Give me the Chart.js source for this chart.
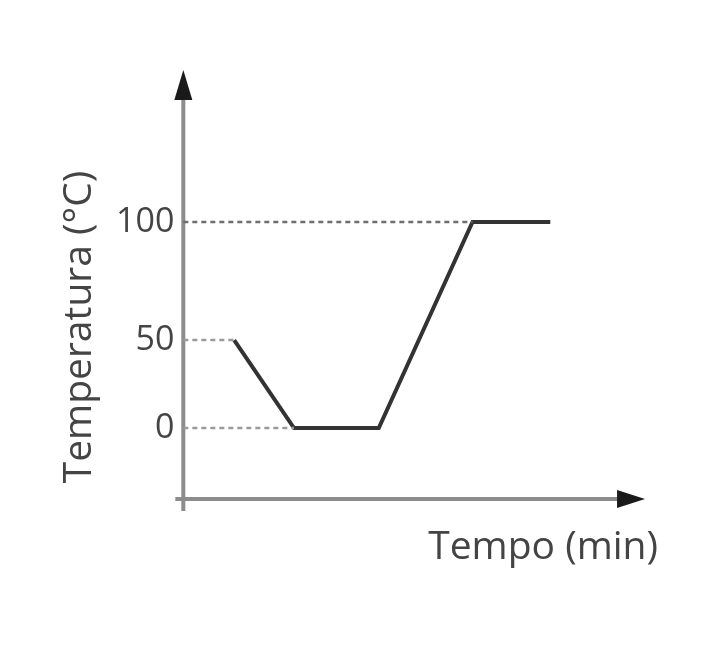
<!DOCTYPE html>
<html>
<head>
<meta charset="utf-8">
<script src="https://cdn.jsdelivr.net/npm/chart.js@4/dist/chart.umd.min.js"></script>
<style>
  html, body { margin: 0; background: #fff; }
</style>
</head>
<body>
<canvas id="c" width="710" height="655"></canvas>
<script>
// heating curve
const times = [5.1, 11.1, 19.6, 29, 36.8];
const temps = [50, 0, 0, 100, 100];
const yTicks = [0, 50, 100];
const yLabel = "Temperatura (°C)";
const xLabel = "Tempo (min)";

// the drawing is schematic: 0-50 is shorter than 50-100, so the y scale is piecewise
const yKnotValues = [-40, 0, 50, 100, 160];
const yKnotPos = [0, 0.1655, 0.3706, 0.6457, 1];
const xAxisEnd = 46.3;

const ink = "#444444";
const font = "'Open Sans', 'Noto Sans', sans-serif";

class StretchScale extends Chart.LinearScale {
  static id = "stretch";
  static defaults = Chart.LinearScale.defaults;

  toDecimal(v) {
    let i = 1;
    while (i < yKnotValues.length - 1 && v > yKnotValues[i]) i++;
    const t = (v - yKnotValues[i - 1]) / (yKnotValues[i] - yKnotValues[i - 1]);
    return yKnotPos[i - 1] + t * (yKnotPos[i] - yKnotPos[i - 1]);
  }

  getPixelForValue(v) {
    return v === null ? NaN : this.getPixelForDecimal(this.toDecimal(v));
  }

  getValueForPixel(px) {
    const d = this.getDecimalForPixel(px);
    let i = 1;
    while (i < yKnotPos.length - 1 && d > yKnotPos[i]) i++;
    const t = (d - yKnotPos[i - 1]) / (yKnotPos[i] - yKnotPos[i - 1]);
    return yKnotValues[i - 1] + t * (yKnotValues[i] - yKnotValues[i - 1]);
  }
}
Chart.register(StretchScale);

const arrowAxes = {
  id: "arrowAxes",
  beforeDatasetsDraw(chart) {
    const { ctx, chartArea: a, scales: { x } } = chart;
    const x0 = a.left, y0 = a.bottom;
    const xEnd = x.getPixelForValue(xAxisEnd);
    ctx.save();
    ctx.strokeStyle = "#8c8c8c";
    ctx.lineWidth = 4;
    ctx.beginPath();
    ctx.moveTo(x0, y0 + 12);
    ctx.lineTo(x0, a.top + 20);
    ctx.moveTo(x0 - 8, y0);
    ctx.lineTo(xEnd - 18, y0);
    ctx.stroke();
    ctx.fillStyle = "#1a1a1a";
    ctx.beginPath();
    ctx.moveTo(x0, a.top);
    ctx.lineTo(x0 - 9, a.top + 30);
    ctx.lineTo(x0 + 9, a.top + 30);
    ctx.closePath();
    ctx.fill();
    ctx.beginPath();
    ctx.moveTo(xEnd, y0);
    ctx.lineTo(xEnd - 28, y0 - 9);
    ctx.lineTo(xEnd - 28, y0 + 9);
    ctx.closePath();
    ctx.fill();

    // y title sits lower than the axis centre in the drawing
    ctx.translate(80, 327);
    ctx.rotate(-Math.PI / 2);
    ctx.fillStyle = ink;
    ctx.font = "39px " + font;
    ctx.textAlign = "center";
    ctx.textBaseline = "middle";
    ctx.fillText(yLabel, 0, 0);
    ctx.restore();
  },
};

// dotted guides from the y axis to the first point at each tick value
const guides = yTicks.map((v) => {
  const i = temps.indexOf(v);
  return {
    data: [{ x: 0, y: v }, { x: times[i], y: v }],
    borderColor: v === 100 ? "#6e6e6e" : "#9a9a9a",
    borderWidth: 2.5,
    borderDash: [5, 4],
    pointRadius: 0,
    clip: false,
  };
});

new Chart(document.getElementById("c"), {
  type: "line",
  data: {
    datasets: [
      ...guides,
      {
        data: times.map((t, i) => ({ x: t, y: temps[i] })),
        borderColor: "#333333",
        borderWidth: 4,
        pointRadius: 0,
        tension: 0,
      },
    ],
  },
  options: {
    responsive: false,
    animation: false,
    devicePixelRatio: 1,
    layout: { padding: { left: 107, top: 70, right: 52, bottom: 83.6 } },
    plugins: { legend: { display: false }, tooltip: { enabled: false } },
    scales: {
      x: {
        type: "linear",
        min: 0,
        max: 47.6,
        grid: { display: false, drawTicks: false },
        border: { display: false },
        ticks: { display: false },
        title: {
          display: true,
          text: xLabel,
          align: "end",
          color: ink,
          font: { family: font, size: 39 },
          padding: { top: 25.6, bottom: 0 },
        },
      },
      y: {
        type: "stretch",
        min: yKnotValues[0],
        max: yKnotValues[yKnotValues.length - 1],
        afterBuildTicks: (s) => { s.ticks = yTicks.map((v) => ({ value: v })); },
        grid: { display: false, drawTicks: false },
        border: { display: false },
        ticks: { color: ink, padding: 9, font: { family: font, size: 34 } },
      },
    },
  },
  plugins: [arrowAxes],
});
</script>
</body>
</html>
